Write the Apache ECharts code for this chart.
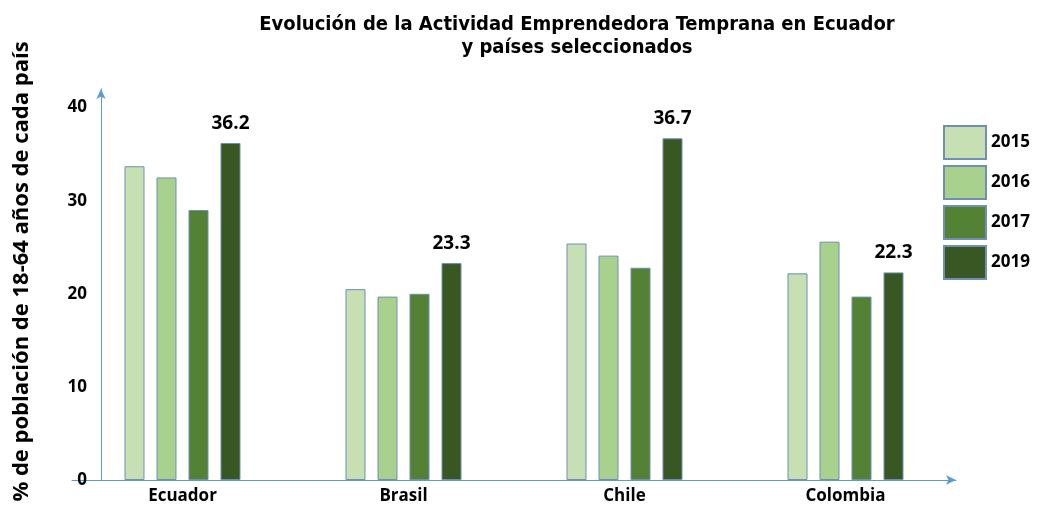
<!DOCTYPE html>
<html>
<head>
<meta charset="utf-8">
<script src="https://cdn.jsdelivr.net/npm/echarts@6/dist/echarts.min.js"></script>
<style>
  html, body { margin: 0; padding: 0; background: #fff; }
  #chart { width: 1039px; height: 512px; }
</style>
</head>
<body>
<div id="chart"></div>
<script>
const paises = ['Ecuador', 'Brasil', 'Chile', 'Colombia'];
const anios = ['2015', '2016', '2017', '2019'];
const v2015 = [33.7, 20.5, 25.4, 22.2];
const v2016 = [32.5, 19.7, 24.1, 25.6];
const v2017 = [29.0, 20.0, 22.8, 19.7];
const v2019 = [36.2, 23.3, 36.7, 22.3];
const yTicks = [0, 10, 20, 30, 40];

const colores = ['#c6e0b4', '#a9d18e', '#548235', '#385723'];
const azul = '#5b9bd5';

let chart = echarts.init(document.getElementById('chart'));

let series = [v2015, v2016, v2017, v2019].map((data, i) => ({
  name: anios[i],
  type: 'bar',
  data: data,
  barWidth: 20,
  barGap: '60%',
  itemStyle: {
    color: colores[i],
    borderColor: '#6f8fb3',
    borderWidth: 1,
  },
  label: {
    show: i === 3,
    position: 'top',
    distance: 10,
    color: '#000',
    fontWeight: 'bold',
    fontSize: 19,
    fontFamily: 'Open Sans',
  },
}));

let option = {
  animation: false,
  title: {
    text: 'Evolución de la Actividad Emprendedora Temprana en Ecuador\ny países seleccionados',
    left: 572,
    top: 8,
    textAlign: 'center',
    textStyle: {
      fontFamily: 'DejaVu Sans Condensed',
      fontSize: 20,
      fontWeight: 'bold',
      color: '#000',
      lineHeight: 23,
    },
  },
  legend: {
    orient: 'vertical',
    left: 938,
    top: 120,
    itemWidth: 42,
    itemHeight: 33,
    itemGap: 5,
    icon: 'rect',
    data: anios,
    textStyle: {
      fontFamily: 'Open Sans',
      fontSize: 17,
      fontWeight: 'bold',
      color: '#000',
    },
  },
  grid: {
    left: 72,
    right: 83,
    top: 89,
    bottom: 32,
    containLabel: false,
    outerBoundsMode: 'none',
  },
  xAxis: {
    type: 'category',
    data: paises,
    axisLine: {
      show: true,
      lineStyle: { color: azul, width: 1 },
      symbol: ['none', 'arrow'],
      symbolSize: [7, 10],
    },
    axisTick: { show: false },
    axisLabel: {
      color: '#000',
      fontFamily: 'Open Sans',
      fontWeight: 'bold',
      fontSize: 17,
      margin: 8,
    },
  },
  yAxis: {
    type: 'value',
    min: 0,
    max: 42,
    interval: 10,
    offset: -29,
    name: '% de población de 18-64 años de cada país',
    nameLocation: 'middle',
    nameGap: 68,
    nameTextStyle: {
      fontFamily: 'Open Sans',
      fontWeight: 'bold',
      fontSize: 22,
      color: '#000',
      padding: [0, 0, 0, 26],
    },
    axisLine: {
      show: true,
      lineStyle: { color: azul, width: 1 },
      symbol: ['none', 'arrow'],
      symbolSize: [7, 10],
    },
    axisTick: { show: false },
    splitLine: { show: false },
    axisLabel: {
      showMaxLabel: false,
      color: '#000',
      fontFamily: 'Open Sans',
      fontWeight: 'bold',
      fontSize: 17,
      margin: 14,
      formatter: v => yTicks.includes(v) ? String(v) : '',
    },
  },
  series: series,
};

chart.setOption(option);
</script>
</body>
</html>
